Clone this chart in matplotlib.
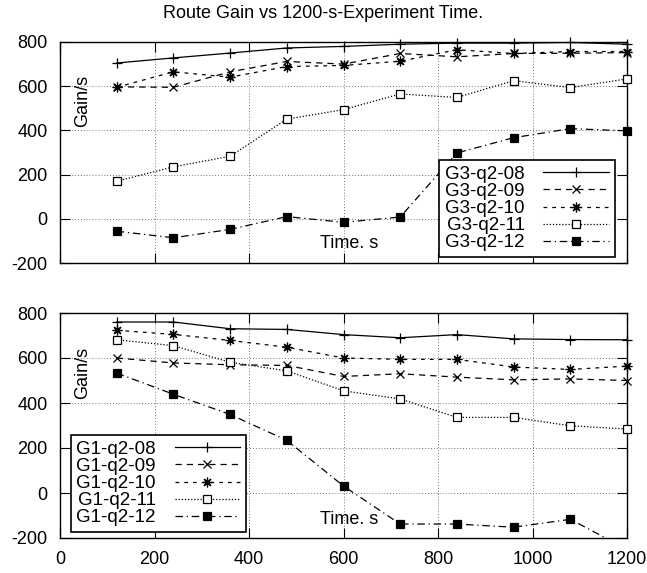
import numpy as np
import matplotlib
matplotlib.use("Agg")
import matplotlib.pyplot as plt

plt.rcParams['font.family'] = ['Liberation Sans', 'DejaVu Sans']
plt.rcParams['axes.unicode_minus'] = False

# Time points (s)
time_s = [120, 240, 360, 480, 600, 720, 840, 960, 1080, 1200]

# Upper panel: G3 runs
g3_labels = ["G3-q2-08", "G3-q2-09", "G3-q2-10", "G3-q2-11", "G3-q2-12"]
g3_08 = [705, 728, 750, 773, 780, 790, 795, 795, 798, 790]
g3_09 = [597, 595, 665, 712, 700, 748, 733, 748, 749, 752]
g3_10 = [595, 665, 641, 689, 694, 713, 765, 748, 757, 757]
g3_11 = [170, 235, 283, 451, 494, 565, 549, 625, 594, 633]
g3_12 = [-56, -86, -48, 10, -16, 8, 298, 367, 408, 398]

# Lower panel: G1 runs
g1_labels = ["G1-q2-08", "G1-q2-09", "G1-q2-10", "G1-q2-11", "G1-q2-12"]
g1_08 = [760, 760, 730, 727, 704, 690, 704, 685, 682, 681]
g1_09 = [600, 578, 570, 567, 518, 530, 515, 503, 507, 500]
g1_10 = [723, 705, 678, 648, 600, 594, 594, 560, 549, 564]
g1_11 = [681, 655, 581, 543, 454, 418, 336, 336, 299, 284]
g1_12 = [533, 439, 349, 234, 31, -138, -138, -152, -117, -250]

# gnuplot-ish styles: (linestyle, marker, facecolor, size)
styles = [
    ("-", "+", "black", 7),
    ((0, (5, 4)), "x", "black", 6),
    ((0, (3, 4)), (8, 2, 0), "black", 7),
    ((0, (1, 1.5)), "s", "white", 5.5),
    ((0, (6, 3, 1, 3)), "s", "black", 5.5),
]

fig = plt.figure(figsize=(6.47, 5.73), dpi=100)
ax1 = fig.add_axes([60 / 647, 1 - 263 / 573, 567 / 647, 221 / 573])
ax2 = fig.add_axes([60 / 647, 1 - 538 / 573, 567 / 647, 225 / 573])

fig.text(0.5, 1 - 13 / 573, "Route Gain vs 1200-s-Experiment Time.",
         ha="center", va="center", fontsize=13)


def draw(ax, series, labels, legend_loc, anchor):
    handles = []
    for vals, lab, (ls, mk, fc, ms) in zip(series, labels, styles):
        ax.plot(time_s, vals, linestyle=ls, color="black", linewidth=0.9)
        v = np.array(vals, dtype=float)
        v[(v < -200) | (v > 800)] = np.nan
        ax.plot(time_s, v, linestyle="none", marker=mk, markersize=ms,
                markerfacecolor=fc, markeredgecolor="black",
                markeredgewidth=0.9, clip_on=False, zorder=3)
        h, = ax.plot([], [], linestyle=ls, color="black", linewidth=0.9,
                     marker=mk, markersize=ms, markerfacecolor=fc,
                     markeredgecolor="black", markeredgewidth=0.9, label=lab)
        handles.append(h)
    ax.set_xlim(0, 1200)
    ax.set_ylim(-200, 800)
    ax.set_xticks(range(0, 1201, 200))
    ax.set_yticks(range(-200, 801, 200))
    ax.grid(True, linestyle=(0, (1, 2)), color="#777777", linewidth=0.7)
    ax.tick_params(direction="in", top=True, right=True, length=7,
                   labelsize=13, width=0.8, pad=9)
    for s in ax.spines.values():
        s.set_linewidth(1.0)
    leg = ax.legend(handles=handles, loc=legend_loc, bbox_to_anchor=anchor,
                    markerfirst=False, fancybox=False, framealpha=1,
                    edgecolor="black", fontsize=13.5, handlelength=3.5,
                    labelspacing=0.0, borderpad=0.3, handletextpad=1.0,
                    borderaxespad=0.2)
    leg.get_frame().set_linewidth(1.2)
    ax.text(0.04, 0.735, "Gain/s", transform=ax.transAxes, rotation=90,
            fontsize=13, va="center", ha="center")


draw(ax1, [g3_08, g3_09, g3_10, g3_11, g3_12], g3_labels,
     "lower right", (0.985, 0.01))
ax1.text(0.51, 0.09, "Time. s", transform=ax1.transAxes, fontsize=13,
         ha="center", va="center")
ax1.tick_params(labelbottom=False)

draw(ax2, [g1_08, g1_09, g1_10, g1_11, g1_12], g1_labels,
     "lower left", (0.012, 0.01))
ax2.text(0.51, 0.08, "Time. s", transform=ax2.transAxes, fontsize=13,
         ha="center", va="center")

fig.savefig("out.png", dpi=100)
